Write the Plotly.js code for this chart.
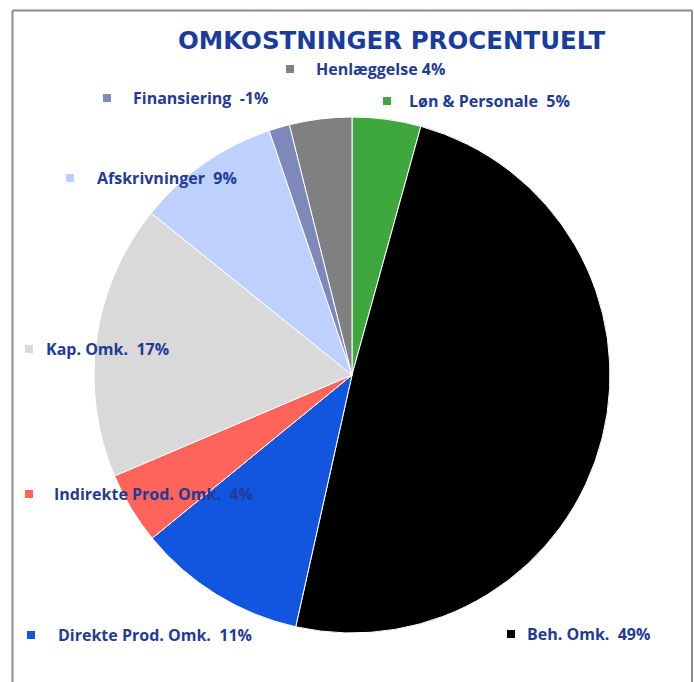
<!DOCTYPE html>
<html>
<head>
<meta charset="utf-8">
<script src="https://cdn.plot.ly/plotly-3.0.1.min.js"></script>
<style>html,body{margin:0;padding:0;background:#fff;}#chart{width:694px;height:682px;}</style>
</head>
<body>
<div id="chart"></div>
<script>
var categories = ['Løn & Personale','Beh. Omk.','Direkte Prod. Omk.','Indirekte Prod. Omk.','Kap. Omk.','Afskrivninger','Finansiering','Henlæggelse'];
var values = [4.3, 49.2, 10.6, 4.5, 17.2, 9.0, 1.3, 3.9];
var pctLabels = ['5%','49%','11%','4%','17%','9%','-1%','4%'];
var separators = ['\u00a0\u00a0','\u00a0\u00a0','\u00a0\u00a0','\u00a0\u00a0','\u00a0\u00a0','\u00a0\u00a0','\u00a0\u00a0','\u00a0'];
var colors = ['#3EA83E','#000000','#1256E0','#FF645A','#D9D9D9','#BDD0FE','#7F88BA','#808080'];

// label positions in pixels (square left x, text left x, center y)
var labelPos = [
  [383, 407, 101],
  [507, 525, 634],
  [27, 56, 635],
  [25, 52, 494],
  [25, 44, 349],
  [66, 95, 178],
  [103, 131, 98],
  [286, 314, 69]
];
var W = 694, H = 682;
function px(x){return x/W;}
function py(y){return 1 - y/H;}

var shapes = [
  {type:'line', xref:'paper', yref:'paper', x0:px(12.5), x1:px(12.5), y0:py(10.5), y1:py(690), line:{color:'#8C8C8C', width:2}},
  {type:'line', xref:'paper', yref:'paper', x0:px(12.5), x1:px(692), y0:py(10.5), y1:py(10.5), line:{color:'#8C8C8C', width:2}},
  {type:'line', xref:'paper', yref:'paper', x0:px(692), x1:px(692), y0:py(10.5), y1:py(690), line:{color:'#8C8C8C', width:2}}
];
var annotations = [{
  xref:'paper', yref:'paper', x:px(391), y:py(41), xanchor:'center', yanchor:'middle',
  text:'OMKOSTNINGER PROCENTUELT', showarrow:false,
  font:{family:'DejaVu Sans', size:24.5, color:'#1A3C9C', weight:'bold'}
}];
for (var i = 0; i < categories.length; i++) {
  var p = labelPos[i];
  shapes.push({type:'rect', xref:'paper', yref:'paper', x0:px(p[0]), x1:px(p[0]+8), y0:py(p[2]+4), y1:py(p[2]-4), fillcolor:colors[i], line:{width:0}});
  annotations.push({
    xref:'paper', yref:'paper', x:px(p[1]), y:py(p[2]), xanchor:'left', yanchor:'middle',
    text:categories[i] + separators[i] + pctLabels[i], showarrow:false,
    font:{family:'Open Sans', size:16, color:'#1F3B96', weight:'bold'}
  });
}

var cx = 352, cy = 375, r = 258;
var data = [{
  type:'pie', labels:categories, values:values, sort:false, direction:'clockwise', rotation:0,
  marker:{colors:colors, line:{color:'#FFFFFF', width:1}},
  textinfo:'none', hoverinfo:'label+percent',
  domain:{x:[px(cx-r), px(cx+r)], y:[py(cy+r), py(cy-r)]}
}];
var layout = {
  width:W, height:H, margin:{l:0,r:0,t:0,b:0}, showlegend:false,
  paper_bgcolor:'#FFFFFF', plot_bgcolor:'#FFFFFF',
  shapes:shapes, annotations:annotations
};
Plotly.newPlot('chart', data, layout, {displayModeBar:false, staticPlot:true});
</script>
</body>
</html>
